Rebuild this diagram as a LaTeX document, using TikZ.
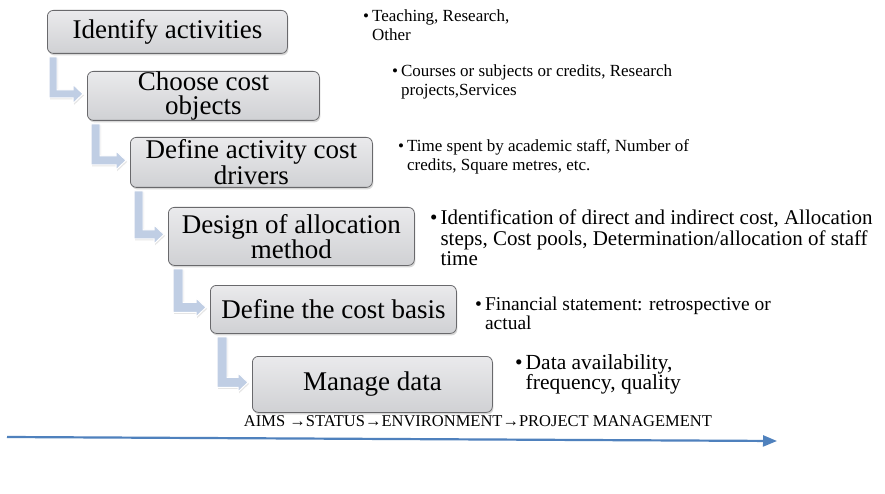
\documentclass[tikz,border=0pt]{standalone}
\usepackage{fontspec}
\setmainfont{Liberation Serif}
\usetikzlibrary{arrows.meta,shadows,calc}
\definecolor{boxline}{RGB}{105,105,108}
\definecolor{boxtop}{RGB}{234,234,236}
\definecolor{boxbot}{RGB}{208,209,212}
\definecolor{bendfill}{RGB}{192,206,228}
\definecolor{timeline}{RGB}{79,129,189}
\tikzset{
  stepbox/.style={draw=boxline, line width=0.8pt, rounded corners=6pt,
    top color=boxtop, bottom color=boxbot, anchor=north west, inner sep=0pt,
    align=center, font=\fontsize{27}{23}\selectfont,
    drop shadow={opacity=0.3, shadow xshift=1pt, shadow yshift=-2pt}},
  note/.style={anchor=base west, inner sep=0pt, font=\fontsize{17}{19}\selectfont},
  bentshape/.style={fill=bendfill, draw=white, line width=1pt,
    drop shadow={opacity=0.2, shadow xshift=1pt, shadow yshift=-1.5pt}},
}
% #1 from node, #2 to node, #3 x offset, #4 bar thickness
\newcommand{\bentarr}[4]{%
  \fill[bentshape] let \p1=(#1.south west), \p2=($(#2.west)+(0,-2)$) in
    ({\x1+#3pt},{\y1-3pt}) -- ({\x1+#3pt+#4pt},{\y1-3pt})
    -- ({\x1+#3pt+#4pt},{\y2+#4pt/2}) -- ({\x2-14pt},{\y2+#4pt/2})
    -- ({\x2-14pt},{\y2+9.5pt}) -- ({\x2-4pt},{\y2})
    -- ({\x2-14pt},{\y2-9.5pt}) -- ({\x2-14pt},{\y2-#4pt/2})
    -- ({\x1+#3pt},{\y2-#4pt/2}) -- cycle;}
\newcommand{\bulletnote}[1]{\begin{tabular}[t]{@{}l@{\hspace{3pt}}l@{}}#1\end{tabular}}
\begin{document}
\begin{tikzpicture}[x=1pt,y=-1pt]
\useasboundingbox (0,0) rectangle (885,494);
\fill[white] (0,0) rectangle (885,494);

\node[stepbox, minimum width=240pt, minimum height=43pt] (b1) at (47,10) {Identify activities};
\node[stepbox, minimum width=232pt, minimum height=47pt, font=\fontsize{27}{24.5}\selectfont] (b2) at (87,71) {Choose cost\\objects};
\node[stepbox, minimum width=242pt, minimum height=50pt] (b3) at (130,137) {Define activity cost\\drivers};
\node[stepbox, minimum width=246pt, minimum height=58pt, font=\fontsize{27}{25}\selectfont] (b4) at (168,207) {Design of allocation\\method};
\node[stepbox, minimum width=246pt, minimum height=48pt] (b5) at (210,285) {Define the cost basis};
\node[stepbox, minimum width=240pt, minimum height=56pt] (b6) at (252,356) {Manage data};

\bentarr{b1}{b2}{2}{8}
\bentarr{b2}{b3}{4}{9}
\bentarr{b3}{b4}{4}{9}
\bentarr{b4}{b5}{5}{10}
\bentarr{b5}{b6}{7}{10}

\node[note] (n1) at (363,22) {\bulletnote{\textbullet & Teaching, Research,\\ & Other}};
\node[note] (n2) at (392,77) {\bulletnote{\textbullet & Courses or subjects or credits, Research\\ & projects,Services}};
\node[note] (n3) at (398,152) {\bulletnote{\textbullet & Time spent by academic staff, Number of\\ & credits, Square metres, etc.}};
\node[note, font=\fontsize{21}{20}\selectfont] (n4) at (430,225) {\bulletnote{\textbullet & Identification of direct and indirect cost, Allocation\\ & steps, Cost pools, Determination/allocation of staff\\ & time}};
\node[note, font=\fontsize{19.5}{19.5}\selectfont] (n5) at (475,310) {\bulletnote{\textbullet & Financial statement: retrospective or\\ & actual}};
\node[note, font=\fontsize{21.5}{19.5}\selectfont] (n6) at (515,369) {\bulletnote{\textbullet & Data availability,\\ & frequency, quality}};

\node[font=\fontsize{16.5}{18}\selectfont, inner sep=0pt] (aims) at (478,421) {AIMS →STATUS→ENVIRONMENT→PROJECT MANAGEMENT};

\coordinate (t0) at (7,437);
\coordinate (t1) at (777,441);
\draw[timeline, line width=2.2pt, -{Triangle[length=14pt,width=11pt]}] (t0) -- (t1);
\end{tikzpicture}
\end{document}
